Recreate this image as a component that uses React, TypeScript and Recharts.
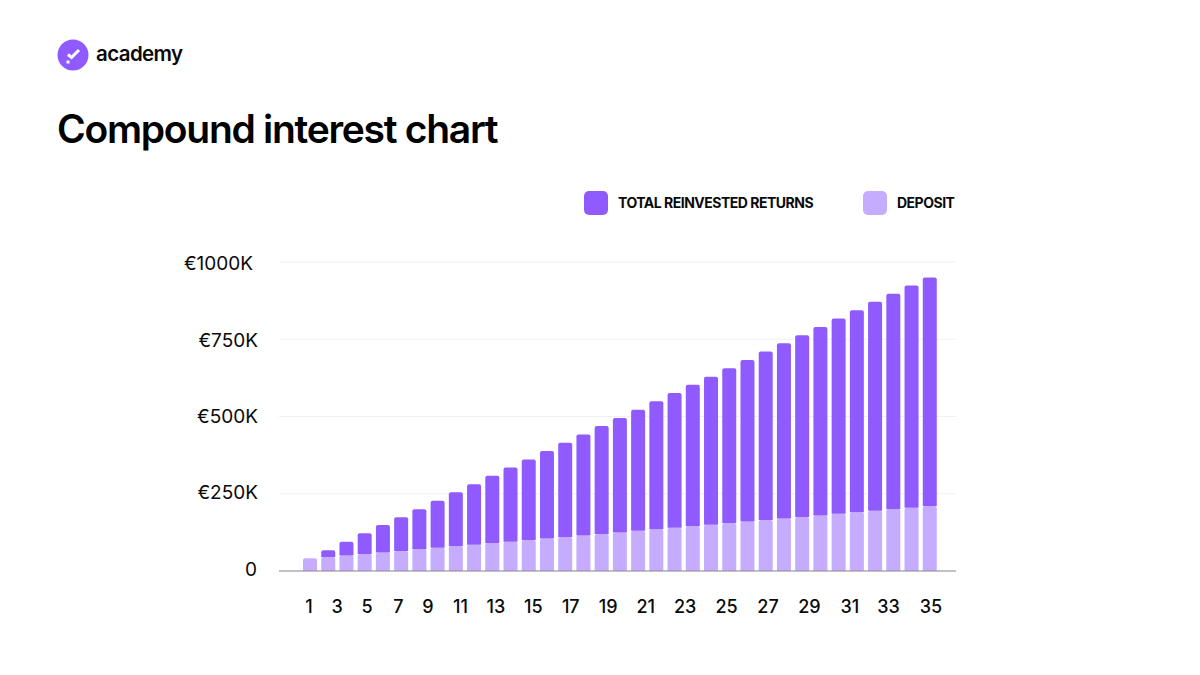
import { BarChart, Bar, XAxis, YAxis, CartesianGrid, Legend } from 'recharts';

const years = [1, 2, 3, 4, 5, 6, 7, 8, 9, 10, 11, 12, 13, 14, 15, 16, 17, 18, 19, 20, 21, 22, 23, 24, 25, 26, 27, 28, 29, 30, 31, 32, 33, 34, 35];
const deposit = [41, 45, 50, 55, 60, 65, 70, 75, 80, 85, 90, 95, 100, 105, 110, 115, 120, 125, 130, 135, 140, 145, 150, 155, 160, 165, 170, 175, 180, 185, 190, 195, 200, 205, 210];
const totals = [41, 67, 95, 122, 149, 174, 200, 227, 255, 281, 308, 335, 361, 388, 415, 442, 469, 495, 522, 549, 576, 603, 629, 656, 683, 710, 737, 763, 790, 817, 844, 871, 897, 924, 950];
const yTicks = [0, 250, 500, 750, 1000];
// the labels under the axis are spread evenly by gap, so they drift away from their bars
const xLabelShift: Record<number, number> = {
  1: -1, 3: -9.5, 5: -16, 7: -21, 9: -28, 11: -32, 13: -33, 15: -32, 17: -31,
  19: -30, 21: -29, 23: -26, 25: -21, 27: -16, 29: -11, 31: -7, 33: -5, 35: 1,
};
// the value labels sit on a slightly tighter rhythm than the grid lines
const yLabelDrop: Record<number, number> = { 0: 4.5, 250: 5.5, 500: 6.5, 750: 7.5, 1000: 8 };

const FONT = 'Inter, sans-serif';
const PURPLE = '#8f5bff';
const LIGHT = '#c5acff';

const data = years.map((year, i) => ({
  year,
  deposit: deposit[i],
  returns: totals[i] - deposit[i],
}));

function YearTick({ x, y, payload }: any) {
  return (
    <text x={x + (xLabelShift[payload.value] ?? 0)} y={y} dy={12.5} textAnchor="middle" fontSize={18} fontWeight={500} fill="#0a0a0a" fontFamily={FONT}>
      {payload.value}
    </text>
  );
}

function ValueTick({ x, y, payload }: any) {
  const v = payload.value;
  return (
    <text x={v === 1000 ? x + 1 : v === 0 ? x + 5 : x + 6} y={y} dy={yLabelDrop[v]} textAnchor="end" fontSize={19} fill="#0a0a0a" fontFamily={FONT}>
      {v === 0 ? '0' : `€${v}K`}
    </text>
  );
}

function ChartLegend() {
  const swatch = (left: number, color: string) => (
    <div style={{ position: 'absolute', left, top: 0, width: 24, height: 24, borderRadius: 5, background: color }} />
  );
  const label = (left: number, text: string) => (
    <div style={{ position: 'absolute', left, top: 3, fontSize: 14, lineHeight: '18px', fontWeight: 700, letterSpacing: -0.5, color: '#0a0a0a', whiteSpace: 'nowrap' }}>
      {text}
    </div>
  );
  return (
    <div style={{ position: 'relative', width: 380, height: 24, fontFamily: FONT }}>
      {swatch(0, PURPLE)}
      {label(34, 'TOTAL REINVESTED RETURNS')}
      {swatch(279, LIGHT)}
      {label(313, 'DEPOSIT')}
    </div>
  );
}

export default function App() {
  return (
    <div style={{ position: 'absolute', left: 0, top: 0, width: 1200, height: 675, background: '#fff', fontFamily: FONT, overflow: 'hidden' }}>
      <svg style={{ position: 'absolute', left: 57, top: 39 }} width={32} height={32} viewBox="0 0 32 32">
        <circle cx={16} cy={16} r={15.5} fill={PURPLE} />
        <path d="M11 15.5 L14.5 18.5 L22 11" fill="none" stroke="#fff" strokeWidth={3} />
        <rect x={9.5} y={21.5} width={3} height={3} fill="#fff" />
      </svg>
      <div style={{ position: 'absolute', left: 96, top: 39, fontSize: 20.5, lineHeight: '30px', fontWeight: 600, letterSpacing: -0.6, color: '#0a0a0a' }}>
        academy
      </div>
      <div style={{ position: 'absolute', left: 57, top: 105, fontSize: 39, lineHeight: '48px', fontWeight: 600, letterSpacing: -1.28, color: '#000', whiteSpace: 'nowrap' }}>
        Compound interest chart
      </div>
      <div style={{ position: 'absolute', left: 0, top: 0 }}>
        <BarChart
          width={1200}
          height={675}
          data={data}
          margin={{ top: 262, right: 244, bottom: 0, left: 179 }}
          barCategoryGap={2}
        >
          <CartesianGrid vertical={false} stroke="#f1eff6" strokeWidth={1} />
          <XAxis
            dataKey="year"
            interval={1}
            height={80}
            padding={{ left: 22, right: 17 }}
            axisLine={{ stroke: '#8c8a8f', strokeWidth: 1 }}
            tickLine={false}
            tickMargin={23}
            tick={<YearTick />}
          />
          <YAxis
            width={100}
            domain={[0, 1000]}
            ticks={yTicks}
            axisLine={false}
            tickLine={false}
            tickMargin={21}
            tick={<ValueTick />}
          />
          <Legend
            content={<ChartLegend />}
            wrapperStyle={{ position: 'absolute', left: 584, top: 191, width: 380, height: 24, bottom: 'auto' }}
          />
          <Bar dataKey="deposit" stackId="a" fill={LIGHT} radius={[2, 2, 0, 0]} isAnimationActive={false} />
          <Bar dataKey="returns" stackId="a" fill={PURPLE} radius={[2, 2, 0, 0]} isAnimationActive={false} />
        </BarChart>
      </div>
    </div>
  );
}
